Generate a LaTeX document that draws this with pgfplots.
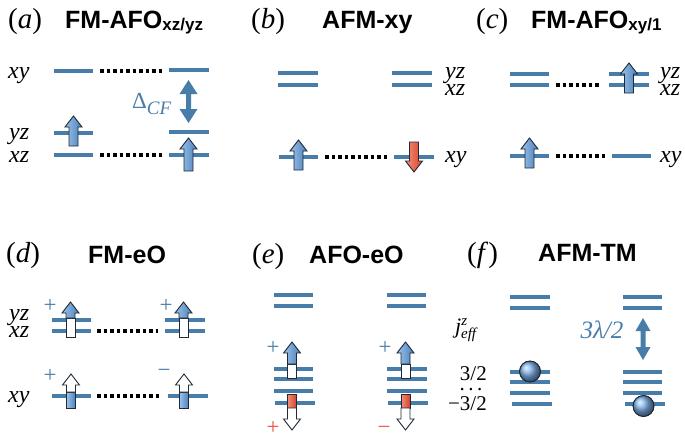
\documentclass[border=0pt]{standalone}
\usepackage{fontspec}
\setmainfont{Liberation Serif}
\newfontfamily\hv{Liberation Sans}
\usepackage{pgfplots}
\pgfplotsset{compat=1.18}

\definecolor{lev}{HTML}{487DAA}
\definecolor{aL}{HTML}{9CC2E8}
\definecolor{aD}{HTML}{4A80BC}
\definecolor{ballc}{HTML}{7FB2EA}
\definecolor{rL}{HTML}{F29078}
\definecolor{rD}{HTML}{D8412A}
\definecolor{edge}{HTML}{1F2A36}
\definecolor{redtxt}{HTML}{E8553E}

\tikzset{
  blu/.style={left color=aL, right color=aD, draw=edge, line width=0.9pt},
  wht/.style={fill=white, draw=edge, line width=0.9pt},
  rd/.style={left color=rL, right color=rD, draw=edge, line width=0.9pt},
  ttl/.style={anchor=base west, inner sep=0pt, font=\hv\bfseries\fontsize{25}{25}\selectfont},
  pan/.style={anchor=base west, inner sep=0pt, font=\fontsize{29}{29}\selectfont},
  orb/.style={anchor=base west, inner sep=0pt, font=\fontsize{24}{24}\selectfont\itshape},
  sgn/.style={inner sep=0pt, font=\fontsize{23}{23}\selectfont},
}

% level line and dotted link
\newcommand\lev[3]{\addplot[lev, line width=4.8pt] coordinates {(#1,#3) (#2,#3)};}
\newcommand\dotl[3]{\addplot[black, line width=3.5pt, dash pattern=on 3.5pt off 3pt] coordinates {(#1,#3) (#2,#3)};}

% block arrows: style, centre x, tip y, tail y
\newcommand\UpArr[4]{%
  \pgfmathsetmacro\xa{#2-4.5}\pgfmathsetmacro\xb{#2+4.5}%
  \pgfmathsetmacro\xc{#2-8.5}\pgfmathsetmacro\xd{#2+8.5}%
  \pgfmathsetmacro\yh{#3+11}%
  \addplot[#1] coordinates {(\xa,#4) (\xb,#4) (\xb,\yh) (\xd,\yh) (#2,#3) (\xc,\yh) (\xa,\yh)} -- cycle;}
\newcommand\DnArr[4]{%
  \pgfmathsetmacro\xa{#2-4.5}\pgfmathsetmacro\xb{#2+4.5}%
  \pgfmathsetmacro\xc{#2-8.5}\pgfmathsetmacro\xd{#2+8.5}%
  \pgfmathsetmacro\yh{#3-11}%
  \addplot[#1] coordinates {(\xa,#4) (\xb,#4) (\xb,\yh) (\xd,\yh) (#2,#3) (\xc,\yh) (\xa,\yh)} -- cycle;}
\newcommand\Shaft[4]{%
  \pgfmathsetmacro\xa{#2-4.5}\pgfmathsetmacro\xb{#2+4.5}%
  \addplot[#1] coordinates {(\xa,#3) (\xb,#3) (\xb,#4) (\xa,#4)} -- cycle;}
% double arrow: centre x, top, bottom, head half width, head length
\newcommand\DblArr[5]{%
  \pgfmathsetmacro\xa{#1-2.5}\pgfmathsetmacro\xb{#1+2.5}%
  \pgfmathsetmacro\xc{#1-#4}\pgfmathsetmacro\xd{#1+#4}%
  \pgfmathsetmacro\ya{#2+#5}\pgfmathsetmacro\yb{#3-#5}%
  \addplot[fill=lev, draw=none] coordinates {(#1,#2) (\xd,\ya) (\xb,\ya) (\xb,\yb) (\xd,\yb) (#1,#3) (\xc,\yb) (\xa,\yb) (\xa,\ya) (\xc,\ya)} -- cycle;}

\begin{document}
\begin{tikzpicture}
\begin{axis}[hide axis, scale only axis, width=685pt, height=439pt,
  xmin=0, xmax=685, ymin=0, ymax=439, y dir=reverse, clip=false]

\addplot[draw=none] coordinates {(0,0) (685,439)};

% ---- (a) FM-AFO xz/yz
\lev{54}{93}{71} \lev{169}{209}{70}
\lev{54}{93}{133} \lev{54}{93}{155}
\lev{169}{209}{132} \lev{169}{209}{155}
\dotl{100}{163}{71} \dotl{100}{163}{155}
\UpArr{blu}{73.5}{116}{146}
\UpArr{blu}{188.5}{138}{171}
\DblArr{188.5}{80}{123}{9}{14}

% ---- (b) AFM-xy
\lev{278}{318}{73} \lev{278}{318}{85}
\lev{392}{432}{73} \lev{392}{432}{85}
\lev{279}{318}{157} \lev{394}{434}{157}
\dotl{325}{388}{157}
\UpArr{blu}{298.5}{140}{170}
\DnArr{rd}{414}{172}{142}

% ---- (c) FM-AFO xy/1
\lev{510}{549}{74} \lev{510}{549}{85}
\lev{609}{649}{74} \lev{609}{649}{85}
\lev{510}{549}{156} \lev{612}{651}{156}
\dotl{556}{600}{85} \dotl{556}{605}{156}
\UpArr{blu}{629}{63}{93}
\UpArr{blu}{529.5}{138}{168}

% ---- (d) FM-eO
\lev{52}{91}{320} \lev{52}{91}{331}
\lev{165}{205}{320} \lev{165}{205}{331}
\lev{52}{91}{396} \lev{168}{208}{396}
\dotl{97}{158}{331} \dotl{97}{160}{396}
\Shaft{wht}{70.5}{318}{337} \UpArr{blu}{70.5}{302}{318}
\Shaft{wht}{183.5}{318}{337} \UpArr{blu}{183.5}{302}{318}
\Shaft{blu}{71}{392}{408} \UpArr{wht}{71}{374}{392}
\Shaft{blu}{184}{392}{408} \UpArr{wht}{184}{374}{392}

% ---- (e) AFO-eO
\lev{274}{313}{295} \lev{274}{313}{306}
\lev{387}{426}{295} \lev{387}{426}{306}
\lev{274}{313}{369} \lev{274}{313}{379} \lev{274}{313}{391} \lev{275}{315}{403}
\lev{387}{427}{369} \lev{387}{427}{379} \lev{387}{427}{391} \lev{388}{428}{403}
\Shaft{wht}{292}{364}{378} \UpArr{blu}{292}{342}{364}
\Shaft{rd}{292}{394}{408} \DnArr{wht}{292}{430}{408}
\Shaft{wht}{405.5}{364}{378} \UpArr{blu}{405.5}{342}{364}
\Shaft{rd}{405.5}{394}{408} \DnArr{wht}{405.5}{430}{408}

% ---- (f) AFM-TM
\lev{510}{550}{297} \lev{510}{550}{308}
\lev{623}{662}{297} \lev{623}{662}{308}
\lev{510}{550}{372} \lev{510}{550}{382} \lev{510}{550}{393} \lev{512}{552}{404}
\lev{623}{662}{372} \lev{623}{662}{382} \lev{623}{662}{393} \lev{625}{665}{404}
\DblArr{643}{318}{360}{7.5}{13}
\addplot[only marks, mark=ball, mark size=10.5pt, ball color=ballc] coordinates {(530,371.5) (643.5,406)};
\addplot[only marks, mark=o, mark size=10.5pt, draw=edge, line width=0.9pt] coordinates {(530,371.5) (643.5,406)};

% ---- texts
\node[pan] at (axis cs:8,28) {(\textit{a})};
\node[ttl] at (axis cs:65,28) {FM-AFO\raisebox{-2pt}{\fontsize{17}{17}\selectfont xz/yz}};
\node[pan] at (axis cs:251,28) {(\textit{b})};
\node[ttl] at (axis cs:322,28) {AFM-xy};
\node[pan] at (axis cs:476,28) {(\textit{c})};
\node[ttl] at (axis cs:531,28) {FM-AFO\raisebox{-2pt}{\fontsize{17}{17}\selectfont xy/1}};
\node[pan] at (axis cs:6,262) {(\textit{d})};
\node[ttl] at (axis cs:88,263) {FM-eO};
\node[pan] at (axis cs:252,263) {(\textit{e})};
\node[ttl] at (axis cs:309,263) {AFO-eO};
\node[pan] at (axis cs:467,262) {(\textit{f})};
\node[ttl] at (axis cs:538,261) {AFM-TM};

\node[orb] at (axis cs:8,78) {xy};
\node[orb] at (axis cs:9,139) {yz};
\node[orb] at (axis cs:9,162) {xz};
\node[orb] at (axis cs:445,78) {yz};
\node[orb] at (axis cs:445,95) {xz};
\node[orb] at (axis cs:445,162) {xy};
\node[orb] at (axis cs:660,78) {yz};
\node[orb] at (axis cs:660,95) {xz};
\node[orb] at (axis cs:660,162) {xy};
\node[orb] at (axis cs:9,320) {yz};
\node[orb] at (axis cs:9,337) {xz};
\node[orb] at (axis cs:8,402) {xy};

\node[anchor=base west, inner sep=0pt, text=lev, font=\fontsize{23}{23}\selectfont] at (axis cs:132,108) {Δ\raisebox{-6pt}{\fontsize{19}{19}\selectfont\itshape CF}};
\node[anchor=base, inner sep=0pt, text=lev, font=\fontsize{25}{25}\selectfont\itshape] at (axis cs:602,338) {3λ/2};

\node[anchor=base west, inner sep=0pt, font=\fontsize{22}{22}\selectfont] at (axis cs:455,333) {\textit{j}\raisebox{8pt}{\fontsize{15}{15}\selectfont\itshape z}\hspace{-6pt}\raisebox{-5pt}{\fontsize{15}{15}\selectfont\itshape eff}};
\node[anchor=base east, inner sep=0pt, font=\fontsize{21}{21}\selectfont] at (axis cs:487,380) {3/2};
\node[anchor=base, inner sep=0pt, font=\fontsize{21}{21}\selectfont] at (axis cs:471,390) {.\,.\,.};
\node[anchor=base east, inner sep=0pt, font=\fontsize{21}{21}\selectfont] at (axis cs:487,410) {−3/2};

\node[sgn, text=lev] at (axis cs:50,306) {+};
\node[sgn, text=lev] at (axis cs:166,306) {+};
\node[sgn, text=lev] at (axis cs:50,376) {+};
\node[sgn, text=lev] at (axis cs:164,373) {−};
\node[sgn, text=lev] at (axis cs:273,348) {+};
\node[sgn, text=lev] at (axis cs:385,348) {+};
\node[sgn, text=redtxt] at (axis cs:273,428) {+};
\node[sgn, text=redtxt] at (axis cs:384,430) {−};

\end{axis}
\end{tikzpicture}
\end{document}
